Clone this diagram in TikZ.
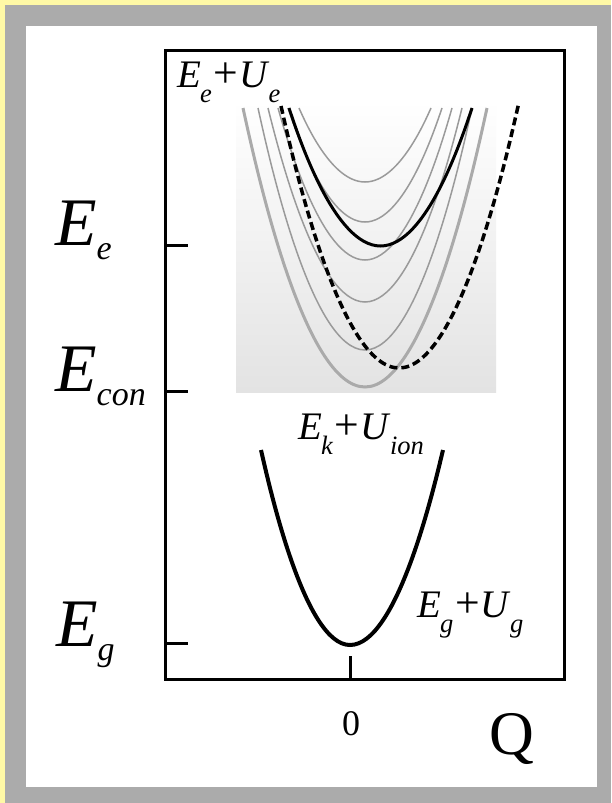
\documentclass[tikz,border=0pt]{standalone}
\usepackage{fontspec}
\setmainfont{Liberation Serif}
\usepackage{graphicx}

\definecolor{frameyellow}{HTML}{FFF9A6}
\definecolor{framegray}{HTML}{ABABAB}
\definecolor{levelgray}{HTML}{9A9A9A}
\definecolor{wellgray}{HTML}{AAAAAA}

% small and large energy labels with lowered subscript
\newcommand{\smlab}[2]{\textit{#1}\kern-0.02em\raisebox{-0.4em}{\scalebox{0.68}{\textit{#2}}}}
\newcommand{\bglab}[2]{\textit{#1}\raisebox{-0.22em}{\scalebox{0.5}{\textit{#2}}}}
\newcommand{\pls}{\kern1.5pt\scalebox{1.12}{+}\kern1pt}

\begin{document}
\begin{tikzpicture}[
  x=1pt, y=-1pt,
  axisline/.style={line width=3pt},
  thinlevel/.style={levelgray,line width=1.5pt},
  thicklevel/.style={wellgray,line width=3pt},
  curvelevel/.style={black,line width=3pt},
  lbl/.style={font=\fontsize{39}{41}\selectfont,inner sep=0pt,anchor=base west},
  biglbl/.style={font=\fontsize{68}{70}\selectfont,inner sep=0pt,anchor=base west},
]

% Frame
\fill[frameyellow] (0,0) rectangle (611,803);
\fill[framegray] (5,5) rectangle (611,803);
\fill[white] (26,26) rectangle (597,787);
\useasboundingbox (0,0) rectangle (611,803);

% Shaded well of excited levels
\shade[top color=white,bottom color=black!11] (236,100) rectangle (496,392);

% Vibrational levels
\foreach \w/\m in {66/182, 77/222, 87/260, 97/302, 107/350}
  \draw[thinlevel] ({365-\w},108) parabola bend (365,\m) ({365+\w},108);
\draw[thicklevel] (243,108) parabola bend (365,387) (487,108);

% Excited and ionic curves
\draw[curvelevel] (289,108) parabola bend (380.5,246) (472,108);
\draw[curvelevel,line width=3.5pt,dash pattern=on 8pt off 4pt] (281,106) parabola bend (399,368) (519,102);

% Ground state curve
\draw[black,line width=4pt] (261,450) parabola bend (350,645) (443,450);

% Axes box and ticks
\draw[axisline] (165,50) rectangle (564,679);
\foreach \y in {245,391,643}
  \draw[axisline] (165,\y) -- (188,\y);
\draw[axisline] (350,656) -- (350,679);

% Curve labels
\node[lbl] (eue) at (177,87) {\smlab{E}{e}\pls\smlab{U}{e}};
\node[lbl] (eui) at (298,439) {\smlab{E}{k}\pls\smlab{U}{ion}};
\node[lbl] (eug) at (417,617) {\smlab{E}{g}\pls\smlab{U}{g}};

% Energy axis labels
\node[biglbl] (ee) at (55,245) {\bglab{E}{e}};
\node[biglbl] (econ) at (55,391) {\bglab{E}{con}};
\node[biglbl] (eg) at (56,646) {\bglab{E}{g}};

% Coordinate axis labels
\node[font=\fontsize{36}{38}\selectfont,inner sep=0pt,anchor=base] (zero) at (351,735) {0};
\node[font=\fontsize{62}{64}\selectfont,inner sep=0pt,anchor=base west] (qlab) at (489,754) {Q};

\end{tikzpicture}
\end{document}
